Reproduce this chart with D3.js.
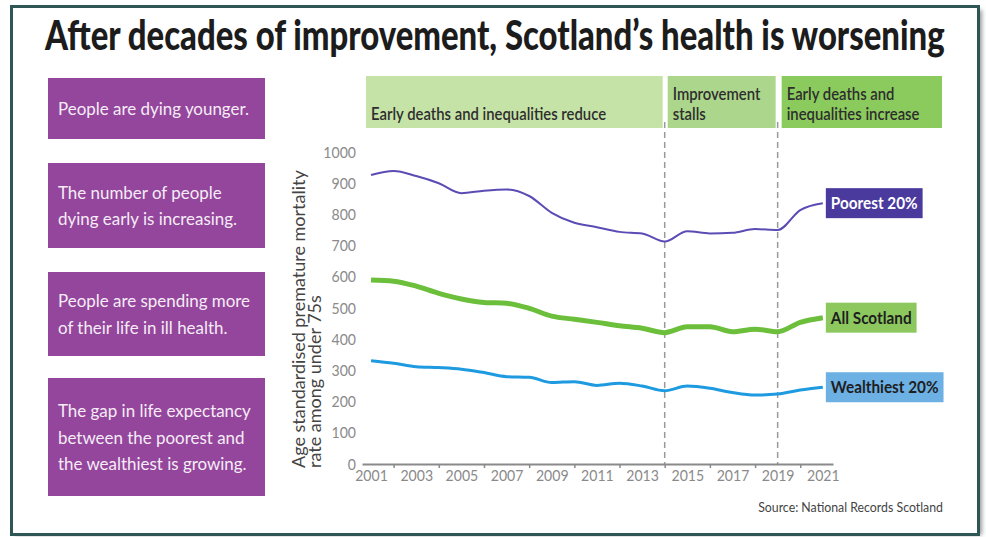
<!DOCTYPE html>
<html>
<head>
<meta charset="utf-8">
<script src="https://cdn.jsdelivr.net/npm/d3@7/dist/d3.min.js"></script>
<style>
  body { margin: 0; background: #fff; }
  svg { display: block; font-family: Lato, "Open Sans", sans-serif; }
</style>
</head>
<body>
<div class="chart"></div>
<script>
// premature mortality, age standardised, per 100k under 75s
var years = [2001, 2002, 2003, 2004, 2005, 2006, 2007, 2008, 2009, 2010, 2011,
             2012, 2013, 2014, 2015, 2016, 2017, 2018, 2019, 2020, 2021];
var poorest = [926, 939, 923, 900, 868, 876, 880, 859, 805, 773, 759,
               744, 739, 713, 746, 739, 741, 753, 750, 814, 836];
var allScotland = [590, 586, 570, 547, 529, 518, 515, 499, 474, 464, 454,
                   443, 435, 421, 440, 440, 424, 432, 424, 454, 469];
var wealthiest = [331, 323, 312, 309, 304, 293, 280, 278, 261, 264, 252,
                  259, 250, 235, 250, 243, 229, 221, 224, 237, 246];

var seriesNames = ['Poorest 20%', 'All Scotland', 'Wealthiest 20%'];
var yTicks = [0, 100, 200, 300, 400, 500, 600, 700, 800, 900, 1000];
var xLabelYears = [2001, 2003, 2005, 2007, 2009, 2011, 2013, 2015, 2017, 2019, 2021];
var xTickYears = [2002, 2004, 2006, 2008, 2010, 2012, 2014, 2016, 2018, 2020];
var phaseBreaks = [2014, 2019];
var phaseLabels = [['Early deaths and inequalities reduce'],
                   ['Improvement', 'stalls'],
                   ['Early deaths and', 'inequalities increase']];
var messages = [['People are dying younger.'],
                ['The number of people', 'dying early is increasing.'],
                ['People are spending more', 'of their life in ill health.'],
                ['The gap in life expectancy', 'between the poorest and', 'the wealthiest is growing.']];

var W = 986, H = 537;
var svg = d3.select('.chart').append('svg')
    .attr('width', W)
    .attr('height', H);

// squeeze text horizontally, the original uses a condensed face
function squeeze(sel, f) {
  sel.each(function() {
    var w = this.getComputedTextLength();
    d3.select(this).attr('textLength', w * f).attr('lengthAdjust', 'spacingAndGlyphs');
  });
}

// frame + shadow
var defs = svg.append('defs');
defs.append('filter').attr('id', 'blur')
  .append('feGaussianBlur').attr('stdDeviation', 2);
svg.append('rect')
    .attr('x', 15).attr('y', 10).attr('width', 967).attr('height', 525)
    .attr('fill', '#9a9a9a').attr('filter', 'url(#blur)');
svg.append('rect')
    .attr('x', 11.5).attr('y', 6.5).attr('width', 967).attr('height', 528)
    .attr('fill', '#fff').attr('stroke', '#2d5654').attr('stroke-width', 3);

// title - scaled to the width of the original condensed heading
var title = svg.append('text')
    .attr('font-size', 41).attr('font-weight', 900).attr('fill', '#1c1c1c')
    .text('After decades of improvement, Scotland\u2019s health is worsening');
var tw = title.node().getComputedTextLength();
title.attr('transform', 'translate(45,50) scale(' + (900 / tw) + ',1)');

// left message boxes
var boxTop = [78, 163, 272, 378], boxH = [61, 85, 84, 118];
var msg = svg.append('g').selectAll('g')
    .data(messages)
    .enter().append('g');
msg.append('rect')
    .attr('x', 48)
    .attr('y', function(d, i) { return boxTop[i]; })
    .attr('width', 217)
    .attr('height', function(d, i) { return boxH[i]; })
    .attr('fill', '#93469b');
msg.each(function(lines, i) {
  var mid = boxTop[i] + boxH[i] / 2;
  d3.select(this).selectAll('text')
    .data(lines)
    .enter().append('text')
      .attr('x', 58)
      .attr('y', function(d, j) { return mid + (j - (lines.length - 1) / 2) * 26.5 + 6.5; })
      .attr('font-size', 18)
      .attr('fill', '#f6ecf7')
      .text(function(d) { return d; })
      .call(squeeze, 0.94);
});

// chart scales
var x = d3.scaleLinear().domain([2000.6, 2021.45]).range([362, 833]);
var y = d3.scaleLinear().domain([0, 1000]).range([464, 152]);

// phase bands across the top
var bandEdges = [[x(2001) - 5, x(phaseBreaks[0]) - 2],
                 [x(phaseBreaks[0]) + 3, x(phaseBreaks[1]) - 2],
                 [x(phaseBreaks[1]) + 4, 942]];
var bandColors = ['#c6e3a7', '#acd68b', '#8bcb5d'];
var bands = svg.append('g').selectAll('g')
    .data(phaseLabels)
    .enter().append('g');
bands.append('rect')
    .attr('x', function(d, i) { return bandEdges[i][0]; })
    .attr('y', 76)
    .attr('width', function(d, i) { return bandEdges[i][1] - bandEdges[i][0]; })
    .attr('height', 52)
    .attr('fill', function(d, i) { return bandColors[i]; });
bands.each(function(lines, i) {
  d3.select(this).selectAll('text')
    .data(lines)
    .enter().append('text')
      .attr('x', bandEdges[i][0] + 5)
      .attr('y', function(d, j) { return 120 - (lines.length - 1 - j) * 20.5; })
      .attr('font-size', 16.5)
      .attr('font-weight', 600)
      .attr('fill', '#2e2e2e')
      .text(function(d) { return d; })
      .call(squeeze, 0.9);
});

// dashed phase dividers
svg.append('g').selectAll('line')
    .data(phaseBreaks)
    .enter().append('line')
      .attr('x1', function(d) { return x(d); })
      .attr('x2', function(d) { return x(d); })
      .attr('y1', 122)
      .attr('y2', y(0))
      .attr('stroke', '#9a9a9a')
      .attr('stroke-width', 1.5)
      .attr('stroke-dasharray', '6,4');

// axes
var yAxis = svg.append('g')
    .attr('transform', 'translate(356,0)')
    .call(d3.axisLeft(y).tickValues(yTicks).tickSize(0).tickPadding(0).tickFormat(d3.format('d')));
yAxis.select('.domain').remove();
yAxis.selectAll('text')
    .attr('font-family', 'Lato, sans-serif')
    .attr('font-size', 16)
    .attr('fill', '#8a8a8a')
    .call(squeeze, 0.88);

var xTicks = svg.append('g')
    .attr('transform', 'translate(0,' + y(0) + ')')
    .call(d3.axisBottom(x).tickValues(xTickYears).tickSize(4).tickSizeOuter(0).tickFormat(''));
xTicks.select('.domain').attr('stroke', '#8a8a8a').attr('stroke-width', 2);
xTicks.selectAll('.tick line').attr('stroke', '#8a8a8a').attr('stroke-width', 1.5);

var xAxis = svg.append('g')
    .attr('transform', 'translate(0,' + y(0) + ')')
    .call(d3.axisBottom(x).tickValues(xLabelYears).tickSize(0).tickPadding(6).tickFormat(d3.format('d')));
xAxis.select('.domain').remove();
xAxis.selectAll('text')
    .attr('font-family', 'Lato, sans-serif')
    .attr('font-size', 16)
    .attr('fill', '#8a8a8a')
    .call(squeeze, 0.88);

// y axis title
var yTitle = svg.append('text')
    .attr('transform', 'translate(305,468) rotate(-90)')
    .attr('font-size', 18)
    .attr('fill', '#444');
yTitle.append('tspan').attr('x', 0).attr('y', 0).text('Age standardised premature mortality');
yTitle.append('tspan').attr('x', 0).attr('y', 16).text('rate among under 75s');

// lines
var series = [
  {name: seriesNames[0], values: poorest, color: '#5a4cb4', width: 2, box: '#4a3a9e', ink: '#fff'},
  {name: seriesNames[1], values: allScotland, color: '#6cbf3a', width: 5, box: '#8cc85e', ink: '#1e1e1e'},
  {name: seriesNames[2], values: wealthiest, color: '#1e9ae0', width: 3, box: '#6cb0e4', ink: '#1e1e1e'}
];

var line = d3.line()
    .x(function(d, i) { return x(years[i]); })
    .y(function(d) { return y(d); })
    .curve(d3.curveMonotoneX);

svg.append('g').selectAll('path')
    .data(series)
    .enter().append('path')
      .attr('d', function(d) { return line(d.values); })
      .attr('fill', 'none')
      .attr('stroke', function(d) { return d.color; })
      .attr('stroke-width', function(d) { return d.width; })
      .attr('stroke-linejoin', 'round');

// end labels
var labels = svg.append('g').selectAll('g')
    .data(series)
    .enter().append('g')
      .attr('transform', function(d) {
        return 'translate(' + x(years[years.length - 1]) + ',' + y(d.values[d.values.length - 1]) + ')';
      });
labels.append('text')
    .attr('x', 8)
    .attr('y', 6)
    .attr('font-size', 17)
    .attr('font-weight', 700)
    .attr('fill', function(d) { return d.ink; })
    .text(function(d) { return d.name; })
    .call(squeeze, 0.9);
labels.insert('rect', 'text')
    .attr('x', 3)
    .attr('y', -15)
    .attr('height', 30)
    .attr('width', function() {
      return d3.select(this.parentNode).select('text').attr('textLength') * 1 + 10;
    })
    .attr('fill', function(d) { return d.box; });

// source
svg.append('text')
    .attr('x', 943).attr('y', 512)
    .attr('text-anchor', 'end')
    .attr('font-size', 14)
    .attr('fill', '#444')
    .text('Source: National Records Scotland')
    .call(squeeze, 0.88);
</script>
</body>
</html>
